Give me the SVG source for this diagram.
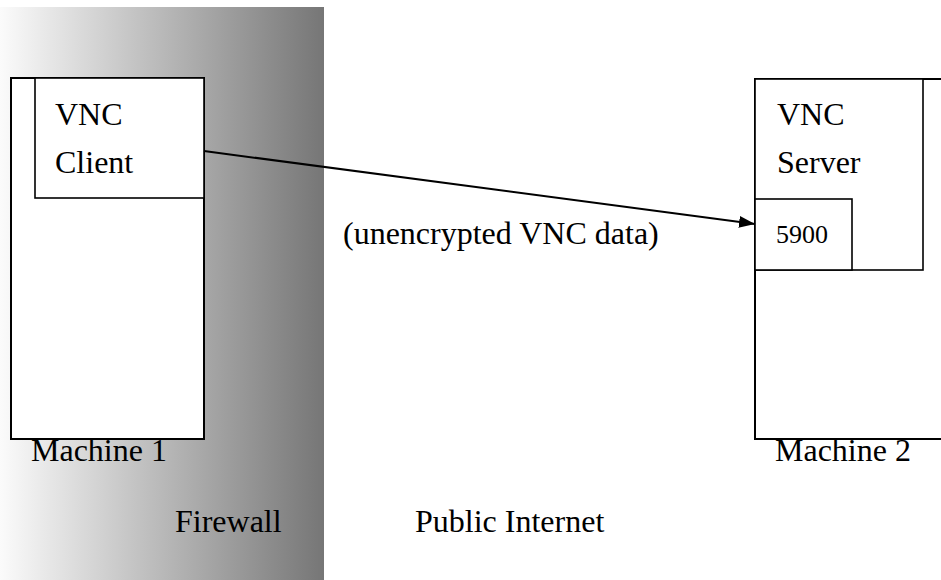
<svg xmlns="http://www.w3.org/2000/svg" width="941" height="580" viewBox="0 0 941 580">
  <defs>
    <linearGradient id="fwGrad" x1="0" y1="0" x2="1" y2="0">
      <stop offset="0" stop-color="#fbfbfb"/>
      <stop offset="1" stop-color="#767676"/>
    </linearGradient>
    <marker id="arrow" markerWidth="16" markerHeight="12" refX="16" refY="6" orient="auto" markerUnits="userSpaceOnUse">
      <path d="M0,0 L16,6 L0,12 Z" fill="#000"/>
    </marker>
    <style>
      .lbl { font-family: "Liberation Serif", "Times New Roman", serif; font-size: 32px; fill: #000; }
      .port { font-family: "Liberation Serif", "Times New Roman", serif; font-size: 26px; fill: #000; }
      .box { fill: #fff; stroke: #000; stroke-width: 2; }
      .inner { fill: #fff; stroke: #000; stroke-width: 1.6; }
    </style>
  </defs>

  <rect width="941" height="580" fill="#fff"/>

  <!-- firewall band -->
  <g id="firewall">
    <rect x="0" y="7" width="324" height="573" fill="url(#fwGrad)"/>
    <text class="lbl" x="175" y="532">Firewall</text>
  </g>

  <g id="internet">
    <text class="lbl" x="415" y="532">Public Internet</text>
  </g>

  <!-- Machine 1 with VNC client -->
  <g id="machine1">
    <text class="lbl" x="31" y="461">Machine 1</text>
    <rect class="box" x="11" y="78" width="193" height="361"/>
    <g id="vnc-client">
      <rect class="inner" x="35" y="78" width="169" height="120"/>
      <text class="lbl" x="55" y="125">VNC</text>
      <text class="lbl" x="55" y="173">Client</text>
    </g>
  </g>

  <!-- Machine 2 with VNC server -->
  <g id="machine2">
    <text class="lbl" x="775" y="461">Machine 2</text>
    <rect class="box" x="755" y="79" width="200" height="360"/>
    <g id="vnc-server">
      <rect class="inner" x="755" y="79" width="168" height="191"/>
      <text class="lbl" x="777" y="125">VNC</text>
      <text class="lbl" x="777" y="173">Server</text>
    </g>
    <g id="port-5900">
      <rect class="inner" x="755" y="199" width="97" height="71"/>
      <text class="port" x="776" y="243">5900</text>
    </g>
  </g>

  <!-- connection -->
  <g id="connectors">
    <line x1="204" y1="151" x2="755" y2="224" stroke="#000" stroke-width="2" marker-end="url(#arrow)"/>
    <text class="lbl" x="343" y="244">(unencrypted VNC data)</text>
  </g>
</svg>
